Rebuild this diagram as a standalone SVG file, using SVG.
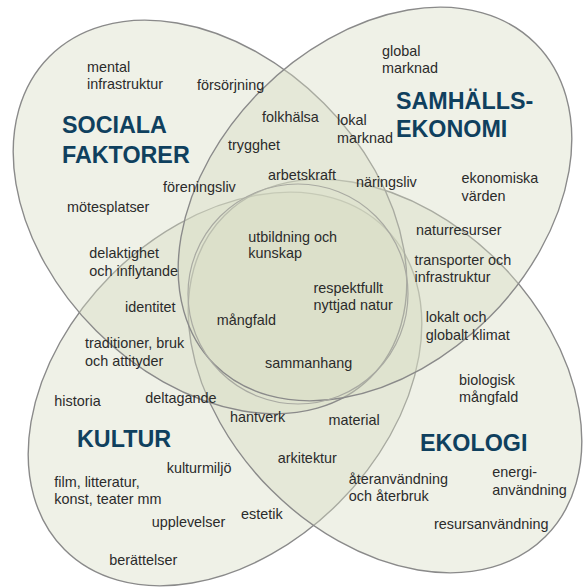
<svg xmlns="http://www.w3.org/2000/svg" width="583" height="588" viewBox="0 0 583 588">
<style>
.e{fill:#d8ddc3;fill-opacity:.4;stroke:#8a8a8a;stroke-width:1.4}
.c{fill:none;stroke:#a9aaa2;stroke-width:1.2}
.t{font-family:"Liberation Sans",Arial,sans-serif;font-weight:bold;font-size:23.3px;fill:#0f405e}
.l{font-family:"Liberation Sans",Arial,sans-serif;font-size:14.4px;fill:#2b2b2b}
</style>
<rect width="583" height="588" fill="#ffffff"/>
<g id="kultur">
<ellipse class="e" cx="225" cy="389" rx="227" ry="161" transform="rotate(-45 225 389)"/>
</g>
<g id="ekologi">
<ellipse class="e" cx="385" cy="376" rx="227" ry="161" transform="rotate(45 385 376)"/>
</g>
<g id="sociala">
<ellipse class="e" cx="210" cy="217" rx="227" ry="161" transform="rotate(45 210 217)"/>
</g>
<g id="samhallsekonomi">
<ellipse class="e" cx="375" cy="204" rx="227" ry="161" transform="rotate(-45 375 204)"/>
</g>
<g id="karna">
<circle class="c" cx="298" cy="294" r="110"/>
</g>
<g id="titlar">
<text class="t" x="62" y="133">SOCIALA</text>
<text class="t" x="62" y="163">FAKTORER</text>
<text class="t" x="396" y="109">SAMHÄLLS-</text>
<text class="t" x="396" y="137">EKONOMI</text>
<text class="t" x="77" y="447">KULTUR</text>
<text class="t" x="420" y="451">EKOLOGI</text>
</g>
<g id="etiketter" class="l">
<text x="87" y="72">mental</text>
<text x="87" y="89">infrastruktur</text>
<text x="197" y="90">försörjning</text>
<text x="262" y="122">folkhälsa</text>
<text x="228" y="150">trygghet</text>
<text x="337" y="125">lokal</text>
<text x="337" y="142.5">marknad</text>
<text x="382" y="56">global</text>
<text x="382" y="72.7">marknad</text>
<text x="268" y="179.5">arbetskraft</text>
<text x="163" y="191.7">föreningsliv</text>
<text x="356" y="186.7">näringsliv</text>
<text x="461.5" y="183.3">ekonomiska</text>
<text x="461.5" y="200.5">värden</text>
<text x="67" y="211.7">mötesplatser</text>
<text x="416" y="235">naturresurser</text>
<text x="248.3" y="242.3">utbildning och</text>
<text x="248.3" y="258.3">kunskap</text>
<text x="89.3" y="258">delaktighet</text>
<text x="89.3" y="275.7">och inflytande</text>
<text x="414.5" y="265">transporter och</text>
<text x="414.5" y="282.3">infrastruktur</text>
<text x="313.5" y="292.7">respektfullt</text>
<text x="313.5" y="310.2">nyttjad natur</text>
<text x="125" y="311.5">identitet</text>
<text x="216.7" y="324.5">mångfald</text>
<text x="425.7" y="321.5">lokalt och</text>
<text x="425.7" y="339.8">globalt klimat</text>
<text x="85" y="347.5">traditioner, bruk</text>
<text x="85" y="365.5">och attityder</text>
<text x="265" y="367.7">sammanhang</text>
<text x="459" y="384.7">biologisk</text>
<text x="459" y="402">mångfald</text>
<text x="54.3" y="406.3">historia</text>
<text x="145.3" y="403">deltagande</text>
<text x="230" y="422.2">hantverk</text>
<text x="328.5" y="424.8">material</text>
<text x="277.7" y="462.5">arkitektur</text>
<text x="166.7" y="473">kulturmiljö</text>
<text x="492.3" y="477">energi-</text>
<text x="492.3" y="494.7">användning</text>
<text x="348.7" y="484">återanvändning</text>
<text x="348.7" y="500.8">och återbruk</text>
<text x="54.3" y="487">film, litteratur,</text>
<text x="54.3" y="503.7">konst, teater mm</text>
<text x="241" y="518.8">estetik</text>
<text x="151.7" y="527.3">upplevelser</text>
<text x="434" y="528.7">resursanvändning</text>
<text x="109.3" y="564.7">berättelser</text>
</g>
</svg>
